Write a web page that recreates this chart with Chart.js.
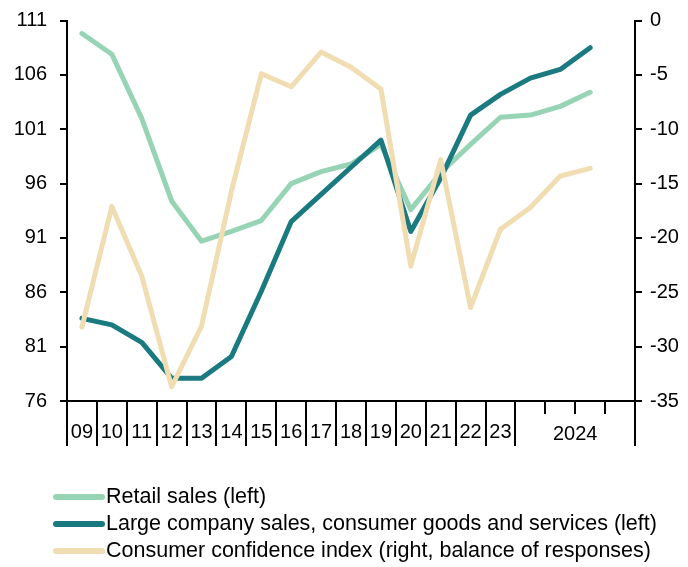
<!DOCTYPE html>
<html>
<head>
<meta charset="utf-8">
<style>
  html, body { margin: 0; padding: 0; background: #fff; }
  #wrap { width: 688px; height: 567px; position: relative; }
</style>
<script src="https://cdn.jsdelivr.net/npm/chart.js@4/dist/chart.umd.min.js"></script>
</head>
<body>
<div id="wrap"><canvas id="c" width="688" height="567"></canvas></div>
<script>
// Slots: annual 2009-2023, then four quarters of 2024 (Q4 not yet available)
const periods = ['09','10','11','12','13','14','15','16','17','18','19','20','21','22','23','2024Q1','2024Q2','2024Q3','2024Q4'];
const yearLabels = ['09','10','11','12','13','14','15','16','17','18','19','20','21','22','23'];
const quarterYearLabel = '2024';

const retailSales = [109.8, 107.9, 102.0, 94.4, 90.7, 91.6, 92.6, 96.0, 97.1, 97.8, 99.6, 93.6, 97.0, 99.6, 102.1, 102.3, 103.1, 104.4, null];
const largeCompanySales = [83.6, 83.0, 81.4, 78.1, 78.1, 80.1, 86.1, 92.5, 95.0, 97.5, 100.0, 91.6, 96.5, 102.3, 104.2, 105.7, 106.5, 108.5, null];
const consumerConfidence = [-28.2, -17.1, -23.5, -33.7, -28.1, -15.7, -4.9, -6.1, -2.9, -4.3, -6.3, -22.6, -12.8, -26.4, -19.2, -17.2, -14.3, -13.6, null];

const leftTicks = [76, 81, 86, 91, 96, 101, 106, 111];
const rightTicks = [-35, -30, -25, -20, -15, -10, -5, 0];

const seriesNames = [
  'Retail sales (left)',
  'Large company sales, consumer goods and services (left)',
  'Consumer confidence index (right, balance of responses)'
];
const seriesColors = ['#97d3b5', '#1b7a80', '#f0ddb2'];

const FONT = "'Liberation Sans', Arial, sans-serif";

// Year separators below the x axis, the centred "2024" label and the legend
const axisDecor = {
  id: 'axisDecor',
  afterDraw(chart) {
    const ctx = chart.ctx;
    const x = chart.scales.x;
    const area = chart.chartArea;
    const n = periods.length;
    const step = x.getPixelForTick(1) - x.getPixelForTick(0);
    const edge = i => {
      if (i === 0) return x.getPixelForTick(0) - step / 2;
      if (i === n) return x.getPixelForTick(n - 1) + step / 2;
      return (x.getPixelForTick(i - 1) + x.getPixelForTick(i)) / 2;
    };
    ctx.save();
    ctx.strokeStyle = '#000';
    ctx.lineWidth = 2;
    ctx.beginPath();
    for (let i = 0; i <= yearLabels.length; i++) {
      const px = Math.round(edge(i));
      ctx.moveTo(px, area.bottom);
      ctx.lineTo(px, area.bottom + 45);
    }
    const px = Math.round(edge(n));
    ctx.moveTo(px, area.bottom);
    ctx.lineTo(px, area.bottom + 45);
    ctx.stroke();

    ctx.fillStyle = '#000';
    ctx.font = '20px ' + FONT;
    ctx.textAlign = 'center';
    ctx.textBaseline = 'middle';
    const qStart = yearLabels.length;
    ctx.fillText(quarterYearLabel, (edge(qStart) + edge(n)) / 2, area.bottom + 33);

    // legend
    ctx.font = '21.5px ' + FONT;
    ctx.textAlign = 'left';
    ctx.lineCap = 'round';
    ctx.lineWidth = 6;
    const rows = [497, 524, 551];
    seriesNames.forEach((name, i) => {
      ctx.strokeStyle = seriesColors[i];
      ctx.beginPath();
      ctx.moveTo(56, rows[i]);
      ctx.lineTo(102, rows[i]);
      ctx.stroke();
      ctx.fillText(name, 106, rows[i]);
    });
    ctx.restore();
  }
};

const lineStyle = (color) => ({
  borderColor: color,
  backgroundColor: color,
  borderWidth: 5,
  pointRadius: 0,
  tension: 0,
  borderCapStyle: 'round',
  borderJoinStyle: 'round',
  fill: false,
  spanGaps: false
});

new Chart(document.getElementById('c'), {
  type: 'line',
  data: {
    labels: periods,
    datasets: [
      Object.assign({ label: seriesNames[0], data: retailSales, yAxisID: 'yL', order: 2 }, lineStyle(seriesColors[0])),
      Object.assign({ label: seriesNames[1], data: largeCompanySales, yAxisID: 'yL', order: 1 }, lineStyle(seriesColors[1])),
      Object.assign({ label: seriesNames[2], data: consumerConfidence, yAxisID: 'yR', order: 0 }, lineStyle(seriesColors[2]))
    ]
  },
  options: {
    responsive: false,
    animation: false,
    layout: { padding: { top: 8, left: 0, right: 0, bottom: 0 } },
    plugins: { legend: { display: false }, tooltip: { enabled: false } },
    scales: {
      x: {
        type: 'category',
        offset: true,
        border: { display: true, color: '#000', width: 2 },
        grid: { display: true, offset: true, drawOnChartArea: false, color: '#000', lineWidth: 2, tickLength: 13 },
        ticks: {
          autoSkip: false,
          maxRotation: 0,
          color: '#000',
          font: { size: 20, family: FONT },
          padding: 6,
          callback: (v, i) => i < yearLabels.length ? yearLabels[i] : ''
        },
        afterFit: s => { s.height = 166; }
      },
      yL: {
        type: 'linear',
        position: 'left',
        min: 76,
        max: 111,
        afterBuildTicks: s => { s.ticks = leftTicks.map(v => ({ value: v })); },
        border: { display: true, color: '#000', width: 2 },
        grid: { display: true, drawOnChartArea: false, color: '#000', lineWidth: 2, tickLength: 7 },
        ticks: { color: '#000', font: { size: 20, family: FONT, lineHeight: 0.75 }, padding: 13 },
        afterFit: s => { s.width = 67; }
      },
      yR: {
        type: 'linear',
        position: 'right',
        min: -35,
        max: 0,
        afterBuildTicks: s => { s.ticks = rightTicks.map(v => ({ value: v })); },
        border: { display: true, color: '#000', width: 2 },
        grid: { display: true, drawOnChartArea: false, color: '#000', lineWidth: 2, tickLength: 7 },
        ticks: { color: '#000', font: { size: 20, family: FONT, lineHeight: 0.75 }, padding: 8 },
        afterFit: s => { s.width = 53; }
      }
    }
  },
  plugins: [axisDecor]
});
</script>
</body>
</html>
